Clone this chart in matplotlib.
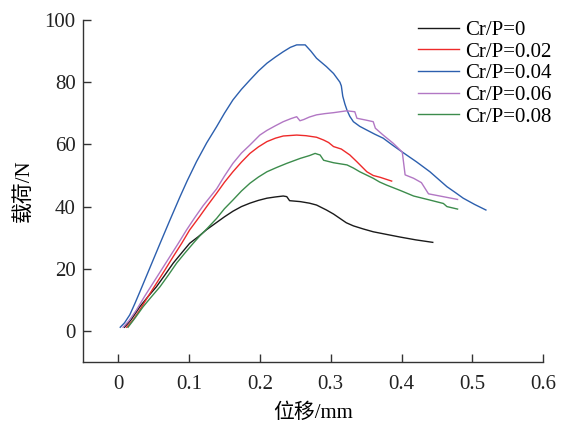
import matplotlib
matplotlib.use("Agg")
from matplotlib import pyplot as plt
import matplotlib.ticker as ticker

# load-displacement curves, displacement in mm, load in N
x_0 = [0.009, 0.018, 0.0307, 0.042, 0.054, 0.066, 0.0777, 0.090, 0.101, 0.113, 0.125,
       0.139, 0.150, 0.162, 0.174, 0.186, 0.198, 0.210, 0.222, 0.233, 0.238, 0.242,
       0.257, 0.270, 0.280, 0.294, 0.304, 0.313, 0.322, 0.332, 0.346, 0.360, 0.380,
       0.398, 0.420, 0.444]
y_0 = [1.2, 3.5, 7.8, 11.0, 14.2, 18.0, 21.8, 25.2, 28.2, 30.3, 32.6,
       34.9, 36.7, 38.5, 40.0, 41.1, 42.0, 42.7, 43.1, 43.4, 43.2, 41.9,
       41.6, 41.1, 40.5, 38.9, 37.6, 36.2, 34.8, 33.8, 32.8, 31.9, 31.0,
       30.2, 29.3, 28.5]

x_002 = [0.012, 0.020, 0.0307, 0.042, 0.054, 0.066, 0.0777, 0.090, 0.101, 0.115, 0.125,
         0.139, 0.150, 0.162, 0.174, 0.186, 0.198, 0.210, 0.222, 0.233, 0.252, 0.265,
         0.280, 0.290, 0.297, 0.304, 0.315, 0.327, 0.337, 0.351, 0.360, 0.370, 0.386]
y_002 = [1.2, 3.2, 6.8, 11.0, 15.3, 19.6, 23.9, 28.3, 32.5, 36.8, 40.0,
         44.3, 47.8, 51.2, 54.3, 57.1, 59.2, 60.9, 62.0, 62.7, 63.0, 62.8,
         62.3, 61.4, 60.6, 59.3, 58.5, 56.6, 54.4, 51.2, 50.0, 49.4, 48.2]

x_004 = [0.003, 0.009, 0.0165, 0.0236, 0.0307, 0.0448, 0.0589, 0.073, 0.087, 0.0975, 0.1107,
         0.125, 0.139, 0.150, 0.162, 0.174, 0.186, 0.198, 0.210, 0.222, 0.233, 0.243,
         0.252, 0.264, 0.272, 0.280, 0.294, 0.304, 0.313, 0.315, 0.317, 0.320, 0.323,
         0.327, 0.332, 0.341, 0.351, 0.362, 0.374, 0.387, 0.400, 0.421, 0.440, 0.452,
         0.464, 0.476, 0.487, 0.503, 0.519]
y_004 = [1.2, 2.6, 5.2, 8.8, 12.6, 20.3, 28.0, 35.6, 43.0, 48.3, 54.5,
         60.5, 65.7, 70.0, 74.3, 77.7, 80.7, 83.6, 86.1, 88.1, 89.8, 91.2,
         92.0, 92.0, 90.0, 87.7, 85.0, 82.8, 80.0, 78.8, 75.5, 73.0, 71.0,
         69.0, 67.3, 65.8, 64.6, 63.3, 62.0, 59.8, 57.7, 54.4, 51.2, 48.8,
         46.4, 44.5, 42.7, 40.7, 38.9]

x_006 = [0.007, 0.015, 0.026, 0.037, 0.049, 0.061, 0.073, 0.085, 0.0966, 0.108, 0.120,
         0.139, 0.150, 0.162, 0.174, 0.186, 0.200, 0.210, 0.222, 0.233, 0.244, 0.252,
         0.2566, 0.262, 0.270, 0.280, 0.292, 0.304, 0.3226, 0.334, 0.337, 0.350, 0.360,
         0.363, 0.374, 0.388, 0.398, 0.401, 0.405, 0.417, 0.428, 0.438, 0.454, 0.479]
y_006 = [1.2, 3.2, 6.8, 11.0, 15.3, 19.6, 23.9, 28.2, 32.5, 36.4, 40.3,
         45.7, 49.8, 53.9, 57.2, 59.8, 63.0, 64.5, 66.0, 67.3, 68.3, 68.9,
         67.6, 68.0, 68.8, 69.5, 69.9, 70.2, 70.8, 70.5, 68.4, 67.8, 67.3,
         65.2, 63.0, 60.4, 58.2, 57.5, 50.2, 49.1, 47.7, 44.1, 43.4, 42.3]

x_008 = [0.014, 0.024, 0.0353, 0.047, 0.059, 0.071, 0.0825, 0.094, 0.106, 0.115, 0.125,
         0.139, 0.150, 0.162, 0.174, 0.186, 0.198, 0.210, 0.224, 0.238, 0.257, 0.270,
         0.278, 0.282, 0.285, 0.290, 0.304, 0.323, 0.332, 0.341, 0.360, 0.369, 0.379,
         0.398, 0.417, 0.440, 0.459, 0.464, 0.479]
y_008 = [1.2, 4.2, 7.8, 11.0, 14.2, 18.0, 21.8, 25.0, 28.2, 30.5, 32.8,
         36.2, 39.3, 42.1, 45.0, 47.5, 49.5, 51.2, 52.6, 53.9, 55.5, 56.4,
         57.1, 56.8, 56.6, 54.9, 54.1, 53.4, 52.4, 51.2, 49.1, 47.9, 46.9,
         45.2, 43.4, 42.1, 41.0, 40.0, 39.2]

labels = ["Cr/P=0", "Cr/P=0.02", "Cr/P=0.04", "Cr/P=0.06", "Cr/P=0.08"]
colors = ["#1a1a1a", "#ee2a2a", "#2c5fae", "#b277c4", "#3c8c4c"]

plt.rcParams["font.family"] = ["Liberation Serif", "Noto Sans CJK SC"]
plt.rcParams["font.size"] = 15

fig = plt.figure(figsize=(5.64, 4.22), dpi=100)
ax = fig.add_axes([0.1466, 0.142, 0.8167, 0.8106])

for xs, ys, lab, c in zip([x_0, x_002, x_004, x_006, x_008],
                          [y_0, y_002, y_004, y_006, y_008], labels, colors):
    ax.plot(xs, ys, color=c, lw=1.0, label=lab)

ax.set_xlim(-0.05, 0.6)
ax.set_ylim(-10, 100)
ax.xaxis.set_major_locator(ticker.MultipleLocator(0.1))
ax.yaxis.set_major_locator(ticker.FixedLocator([0, 20, 40, 60, 80, 100]))
ax.xaxis.set_major_formatter(ticker.FuncFormatter(lambda v, p: f"{v:g}"))

for s in ["top", "right"]:
    ax.spines[s].set_visible(False)
for s in ["left", "bottom"]:
    ax.spines[s].set_color("#333333")
    ax.spines[s].set_linewidth(1.0)
ax.tick_params(direction="in", length=6, width=1.0, color="#333333", labelcolor="#222222")
ax.tick_params(axis="x", pad=9)
ax.tick_params(axis="y", pad=5)

ax.set_xlabel("位移/mm", labelpad=7)
ax.set_ylabel("载荷/N", labelpad=8)

ax.legend(loc="upper left", bbox_to_anchor=(0.742, 0.952), bbox_transform=fig.transFigure,
          frameon=False, handlelength=1.95, handletextpad=0.3, labelspacing=0.1,
          borderpad=0, borderaxespad=0)

fig.savefig("out.png", dpi=100)
